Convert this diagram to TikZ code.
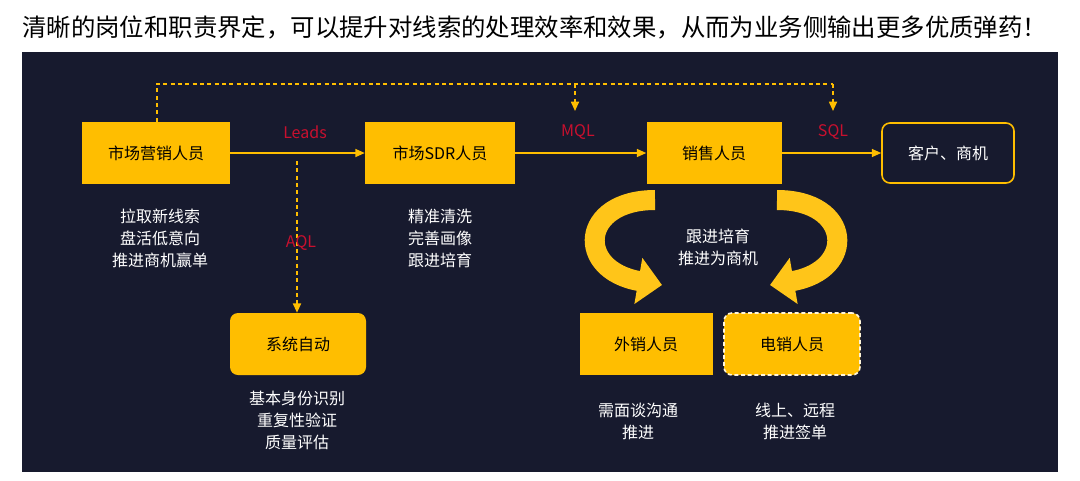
\documentclass[tikz,border=0pt]{standalone}
\usepackage{fontspec}
\setmainfont{Noto Sans CJK SC}
\usetikzlibrary{arrows.meta}
\definecolor{bg}{HTML}{171A2E}
\definecolor{yel}{HTML}{FFBE00}
\definecolor{lbl}{HTML}{C8102E}
\begin{document}
\begin{tikzpicture}[x=0.75pt,y=-0.75pt,
 box/.style={fill=yel,minimum width=#1*0.75pt,minimum height=46.5pt,inner sep=0pt,font=\fontsize{12}{14}\selectfont,text=black},
 box/.default=148,
 note/.style={text=white,font=\fontsize{12}{16.5}\selectfont,align=center},
 lab/.style={text=lbl,font=\fontsize{12}{14}\selectfont},
 flow/.style={draw=yel,line width=1pt,-{Triangle[length=7pt,width=6pt]}},
 dflow/.style={draw=yel,line width=1.3pt,dash pattern=on 3pt off 2.5pt,-{Triangle[length=7pt,width=6pt]}},
 big/.style={draw=yel!90!white,line width=15pt,-{Triangle[length=18pt,width=34pt]}}]
\useasboundingbox (0,0) rectangle (1080,480);
\fill[white] (0,0) rectangle (1080,480);
\fill[bg] (22,52) rectangle (1058,472);
\node[font=\fontsize{18.3}{20}\selectfont,anchor=west,inner sep=0pt] (title) at (22,27) {清晰的岗位和职责界定，可以提升对线索的处理效率和效果，从而为业务侧输出更多优质弹药！};
\node[box=148] (mkt) at (156,153) {市场营销人员};
\node[box=150] (sdr) at (440,153) {市场SDR人员};
\node[box=135] (sales) at (714,153) {销售人员};
\node[draw=yel,line width=1.2pt,fill=bg,rounded corners=6pt,minimum width=99pt,minimum height=45pt,text=white,font=\fontsize{12}{14}\selectfont] (cust) at (948,153) {客户、商机};
\node[box=136,rounded corners=6pt] (auto) at (298,344) {系统自动};
\node[box=133] (out) at (646,344) {外销人员};
\node[box=136,rounded corners=6pt,draw=white!85!yel,line width=1.2pt,dash pattern=on 3pt off 2pt] (tel) at (792,344) {电销人员};
\draw[flow] (mkt) -- (sdr);
\draw[flow] (sdr) -- (sales);
\draw[flow] (sales) -- (cust);
\coordinate (d0) at (157,84);
\coordinate (d1) at (575,84);
\coordinate (d2) at (833,84);
\coordinate (m1) at (575,111);
\coordinate (m2) at (833,111);
\coordinate (a0) at (297,161);
\draw[draw=yel,line width=1.3pt,dash pattern=on 3pt off 2.5pt] (mkt.north -| d0) -- (d0) -- (d2);
\draw[dflow] (d1) -- (m1);
\draw[dflow] (d2) -- (m2);
\draw[dflow] (a0) -- (auto.north -| a0);
\node[lab] (l1) at (305,132) {Leads};
\node[lab] (l2) at (578,132) {MQL};
\node[lab] (l3) at (833,132) {SQL};
\node[lab] (l4) at (301,243) {AQL};
\node[note] (n1) at (160,238) {拉取新线索\\盘活低意向\\推进商机赢单};
\node[note] (n2) at (440,238) {精准清洗\\完善画像\\跟进培育};
\node[note] (n3) at (718,247) {跟进培育\\推进为商机};
\node[note] (n4) at (297,420) {基本身份识别\\重复性验证\\质量评估};
\node[note] (n5) at (638,421) {需面谈沟通\\推进};
\node[note] (n6) at (795,421) {线上、远程\\推进签单};
\coordinate (c1s) at (655,200);
\coordinate (c1e) at (662,285);
\coordinate (c2s) at (777,200);
\coordinate (c2e) at (770,285);
\draw[big] (c1s) .. controls (580,200) and (575,270) .. (c1e);
\draw[big] (c2s) .. controls (852,200) and (857,270) .. (c2e);
\end{tikzpicture}
\end{document}
